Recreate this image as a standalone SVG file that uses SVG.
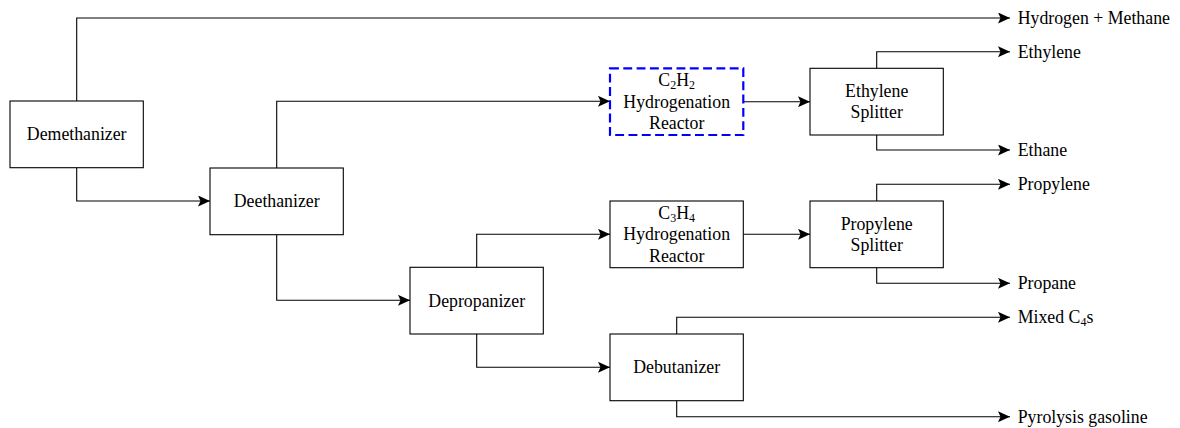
<svg xmlns="http://www.w3.org/2000/svg" width="1180" height="428" viewBox="0 0 1180 428">
<defs>
<marker id="arr" viewBox="0 0 12 11" refX="12" refY="5.5" markerWidth="12" markerHeight="11" markerUnits="userSpaceOnUse" orient="auto">
<path d="M0,0 L12,5.5 L0,11 L2.5,5.5 Z" fill="#000"/>
</marker>
<style>
.box{fill:#fff;stroke:#000;stroke-width:1.1}
.dash{fill:#fff;stroke:#0000ff;stroke-width:2.2;stroke-dasharray:8.9 4.4}
.ln{fill:none;stroke:#000;stroke-width:1.1}
text{font-family:"Liberation Serif","Times New Roman",serif;font-size:17.8px;fill:#000}
.c{text-anchor:middle}
.sub{font-size:12px}
</style>
</defs>
<g id="connectors">
<path class="ln" d="M76.7,101 V18 H1010" marker-end="url(#arr)"/>
<path class="ln" d="M76.7,167.7 V201 H210" marker-end="url(#arr)"/>
<path class="ln" d="M276.7,168 V101.3 H610" marker-end="url(#arr)"/>
<path class="ln" d="M276.7,234.7 V300.3 H410" marker-end="url(#arr)"/>
<path class="ln" d="M743.3,101.7 H810" marker-end="url(#arr)"/>
<path class="ln" d="M876.7,68.3 V51.7 H1010" marker-end="url(#arr)"/>
<path class="ln" d="M876.7,135 V150 H1010" marker-end="url(#arr)"/>
<path class="ln" d="M476.7,267.3 V234.3 H610" marker-end="url(#arr)"/>
<path class="ln" d="M743.3,234.3 H810" marker-end="url(#arr)"/>
<path class="ln" d="M876.7,201 V184.3 H1010" marker-end="url(#arr)"/>
<path class="ln" d="M876.7,267.7 V283.3 H1010" marker-end="url(#arr)"/>
<path class="ln" d="M476.7,333.3 V367.3 H610" marker-end="url(#arr)"/>
<path class="ln" d="M676.7,334 V317.3 H1010" marker-end="url(#arr)"/>
<path class="ln" d="M676.7,400 V416.7 H1010" marker-end="url(#arr)"/>
</g>
<g id="demethanizer">
<rect class="box" x="10" y="101" width="133.3" height="66.7"/>
<text class="c" x="76.7" y="140.3">Demethanizer</text>
</g>
<g id="deethanizer">
<rect class="box" x="210" y="168" width="133.3" height="66.7"/>
<text class="c" x="276.7" y="207.3">Deethanizer</text>
</g>
<g id="c2h2-reactor">
<rect class="dash" x="610" y="68.3" width="133.3" height="66.7"/>
<text class="c" x="676.7" y="86.4">C<tspan class="sub" dy="3">2</tspan><tspan dy="-3">H</tspan><tspan class="sub" dy="3">2</tspan></text>
<text class="c" x="676.7" y="107.7">Hydrogenation</text>
<text class="c" x="676.7" y="129">Reactor</text>
</g>
<g id="ethylene-splitter">
<rect class="box" x="810" y="68.3" width="133.3" height="66.7"/>
<text class="c" x="876.7" y="97">Ethylene</text>
<text class="c" x="876.7" y="118.3">Splitter</text>
</g>
<g id="depropanizer">
<rect class="box" x="410" y="267.3" width="133.3" height="66.7"/>
<text class="c" x="476.7" y="306.6">Depropanizer</text>
</g>
<g id="c3h4-reactor">
<rect class="box" x="610" y="201" width="133.3" height="66.7"/>
<text class="c" x="676.7" y="219">C<tspan class="sub" dy="3">3</tspan><tspan dy="-3">H</tspan><tspan class="sub" dy="3">4</tspan></text>
<text class="c" x="676.7" y="240.3">Hydrogenation</text>
<text class="c" x="676.7" y="261.6">Reactor</text>
</g>
<g id="propylene-splitter">
<rect class="box" x="810" y="201" width="133.3" height="66.7"/>
<text class="c" x="876.7" y="229.7">Propylene</text>
<text class="c" x="876.7" y="251">Splitter</text>
</g>
<g id="debutanizer">
<rect class="box" x="610" y="334" width="133.3" height="66.7"/>
<text class="c" x="676.7" y="373.3">Debutanizer</text>
</g>
<g id="outputs">
<text x="1017.7" y="24">Hydrogen + Methane</text>
<text x="1017.7" y="57.7">Ethylene</text>
<text x="1017.7" y="156">Ethane</text>
<text x="1017.7" y="190.3">Propylene</text>
<text x="1017.7" y="289.3">Propane</text>
<text x="1017.7" y="323.3">Mixed C<tspan class="sub" dy="3">4</tspan><tspan dy="-3">s</tspan></text>
<text x="1017.7" y="422.7">Pyrolysis gasoline</text>
</g>
</svg>
